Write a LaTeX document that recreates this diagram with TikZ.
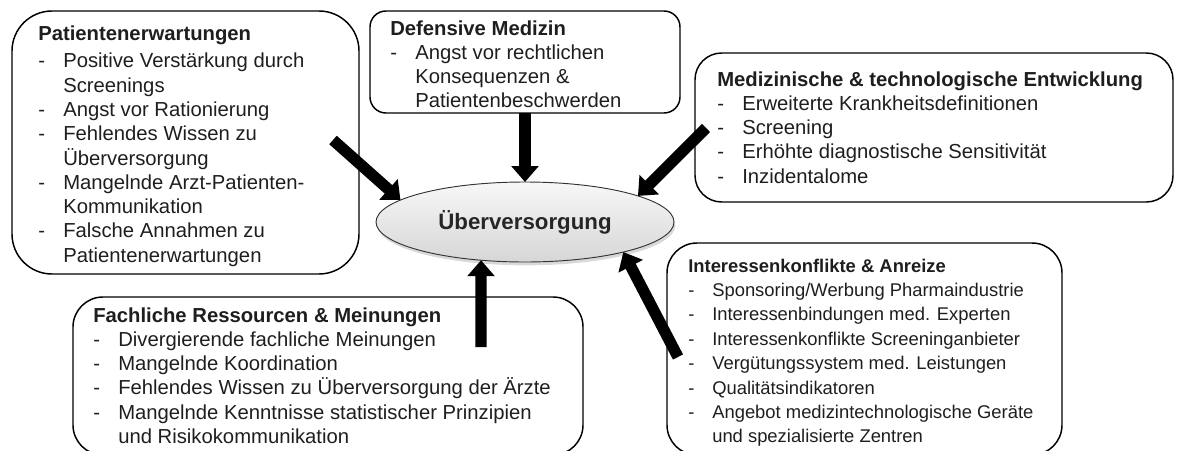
\documentclass[tikz,border=0pt]{standalone}
\usepackage{fontspec}
\setmainfont{Liberation Sans}
\usetikzlibrary{arrows.meta,shapes.geometric,shadows}
\definecolor{txt}{HTML}{1E1E1E}
\definecolor{ttl}{HTML}{262626}
\begin{document}
\begin{tikzpicture}[x=0.75pt,y=-0.75pt,
  box/.style={draw=black,line width=1.1pt,inner sep=0pt,outer sep=0pt,anchor=north west},
  lst/.style={anchor=base west,inner sep=0pt,text=txt,font=\fontsize{15.2}{18.2}\selectfont},
  lstsmall/.style={lst,font=\fontsize{13.8}{18.3}\selectfont},
  bigarrow/.style={line width=8.5pt,draw=black,-{Triangle[length=12pt,width=20pt]}}]
\useasboundingbox (0,0) rectangle (1178,450);
% boxes
\node[box,rounded corners=30pt,minimum width=260.25pt,minimum height=197.25pt] (b1) at (12,11) {};
\node[box,rounded corners=12pt,minimum width=232.5pt,minimum height=76.5pt] (b2) at (370,11) {};
\node[box,rounded corners=20pt,minimum width=358.5pt,minimum height=111.75pt] (b3) at (695,53) {};
\node[box,rounded corners=22.5pt,minimum width=296.25pt,minimum height=159pt] (b4) at (667,243) {};
\node[box,rounded corners=22.5pt,minimum width=382.5pt,minimum height=118.5pt] (b5) at (73,297) {};
% texts
\node[lst] (t1) at (38,40.5) {\begin{tabular}[t]{@{}p{18.75pt}@{}l@{}}
\multicolumn{2}{@{}l@{}}{\bfseries Patientenerwartungen}\\[2.4pt]
- & Positive Verstärkung durch\\
  & Screenings\\
- & Angst vor Rationierung\\
- & Fehlendes Wissen zu\\
  & Überversorgung\\
- & Mangelnde Arzt-Patienten-\\
  & Kommunikation\\
- & Falsche Annahmen zu\\
  & Patientenerwartungen
\end{tabular}};
\node[lst] (t2) at (390,35) {\begin{tabular}[t]{@{}p{18.75pt}@{}l@{}}
\multicolumn{2}{@{}l@{}}{\bfseries Defensive Medizin}\\
- & Angst vor rechtlichen\\
  & Konsequenzen \&\\
  & Patientenbeschwerden
\end{tabular}};
\node[lst] (t3) at (717,86) {\begin{tabular}[t]{@{}p{18.75pt}@{}l@{}}
\multicolumn{2}{@{}l@{}}{\bfseries Medizinische \& technologische Entwicklung}\\
- & Erweiterte Krankheitsdefinitionen\\
- & Screening\\
- & Erhöhte diagnostische Sensitivität\\
- & Inzidentalome
\end{tabular}};
\node[lstsmall] (t4) at (688,272) {\begin{tabular}[t]{@{}p{18pt}@{}l@{}}
\multicolumn{2}{@{}l@{}}{\bfseries Interessenkonflikte \& Anreize}\\
- & Sponsoring/Werbung Pharmaindustrie\\
- & Interessenbindungen med. Experten\\
- & Interessenkonflikte Screeninganbieter\\
- & Vergütungssystem med. Leistungen\\
- & Qualitätsindikatoren\\
- & Angebot medizintechnologische Geräte\\
  & und spezialisierte Zentren
\end{tabular}};
\node[lst] (t5) at (93,322) {\begin{tabular}[t]{@{}p{18.75pt}@{}l@{}}
\multicolumn{2}{@{}l@{}}{\bfseries Fachliche Ressourcen \& Meinungen}\\
- & Divergierende fachliche Meinungen\\
- & Mangelnde Koordination\\
- & Fehlendes Wissen zu Überversorgung der Ärzte\\
- & Mangelnde Kenntnisse statistischer Prinzipien\\
  & und Risikokommunikation
\end{tabular}};
% central ellipse
\node[ellipse,draw=black!80,line width=0.7pt,inner sep=0pt,outer sep=0pt,
      minimum width=223.5pt,minimum height=60pt,
      top color=gray!6,bottom color=gray!32,
      drop shadow={opacity=0.3,shadow xshift=1pt,shadow yshift=-2.5pt},
      text=ttl,font=\fontsize{16.7}{20}\selectfont\bfseries] (ell) at (525,222) {Überversorgung};
% arrow tails
\coordinate (c1) at (333,140);
\coordinate (c3) at (706,128);
\coordinate (c4) at (481,347);
\coordinate (c5) at (678,357);
% arrows
\draw[bigarrow] (c1) -- (ell.170);
\draw[bigarrow] (b2.south) -- (ell.north);
\draw[bigarrow] (c3) -- (ell.13);
\draw[bigarrow] (c4) -- (ell.-139.2);
\draw[bigarrow] (c5) -- (ell.-17.6);
\end{tikzpicture}
\end{document}
